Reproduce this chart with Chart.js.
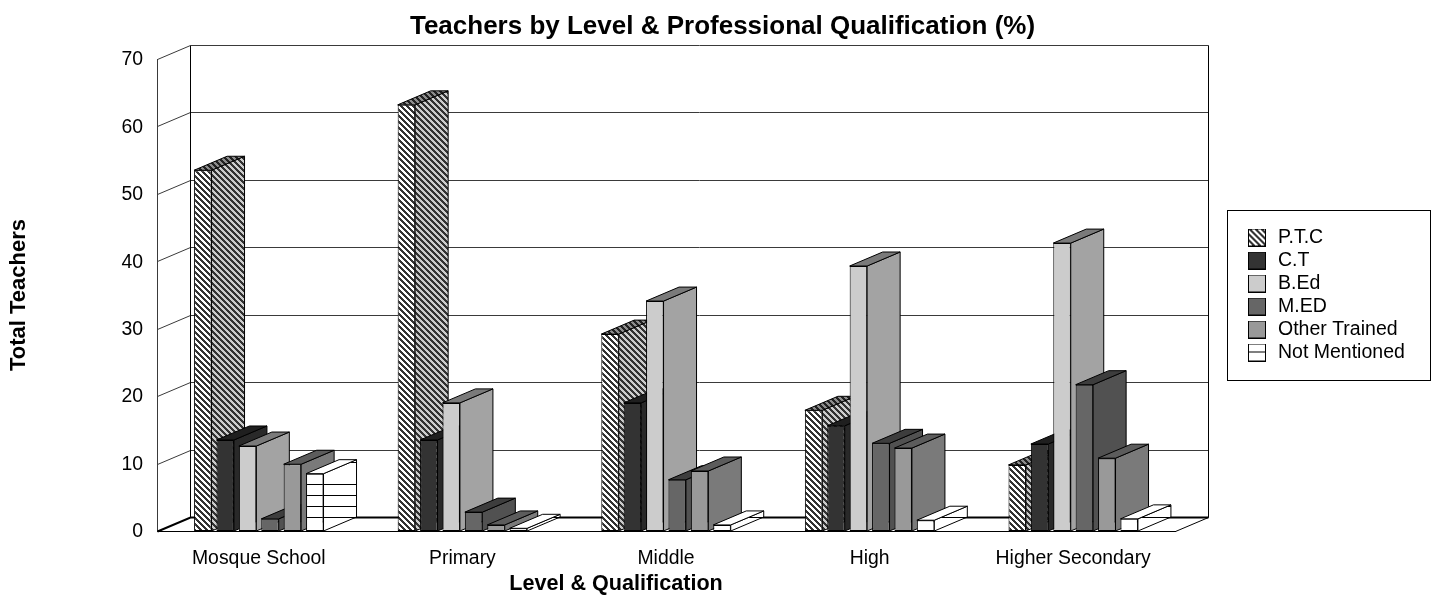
<!DOCTYPE html>
<html><head><meta charset="utf-8">
<style>html,body{margin:0;padding:0;background:#fff;overflow:hidden}canvas{display:block}</style>
<script src="https://cdn.jsdelivr.net/npm/chart.js@4/dist/chart.umd.min.js"></script>
</head><body>
<canvas id="c" width="1445" height="596"></canvas>
<script>
const categories = ['Mosque School','Primary','Middle','High','Higher Secondary'];
const seriesNames = ['P.T.C','C.T','B.Ed','M.ED','Other Trained','Not Mentioned'];
const ptc = [53.5,63.2,29.2,17.9,9.8];
const ct = [13.5,13.5,19,15.6,12.9];
const bed = [12.6,19,34.1,39.3,42.7];
const med = [1.8,2.8,7.6,13,21.7];
const otherTrained = [9.9,0.9,8.9,12.3,10.8];
const notMentioned = [8.5,0.4,0.9,1.6,1.8];
const seriesValues = [ptc,ct,bed,med,otherTrained,notMentioned];
const yTickStep = 10, yMax = 70;

const FONT = '"Liberation Sans", Arial, sans-serif';
const DX = 33, DY = -14;
const ctx = document.getElementById('c').getContext('2d');

function tile(w,h,paint){const t=document.createElement('canvas');t.width=w;t.height=h;paint(t.getContext('2d'));return t;}
function stripeTile(light,dark){
  return tile(6,6,g=>{
    for(let x=0;x<6;x++)for(let y=0;y<6;y++){
      g.fillStyle=((x-y+12)%6)<3?dark:light;g.fillRect(x,y,1,1);
    }});
}
function stripes(light,dark){return ctx.createPattern(stripeTile(light,dark),'repeat');}
function rules(){
  return ctx.createPattern(tile(1,55,g=>{
    g.fillStyle='#fff';g.fillRect(0,0,1,55);
    g.fillStyle='#000';[0,11,22,44].forEach(r=>g.fillRect(0,r,1,1));
  }),'repeat');
}
const styles = [
  {front:stripes('#ffffff','#333333'),side:stripes('#cccccc','#333333'),top:stripes('#8c8c8c','#222222')},
  {front:'#333333',side:'#292929',top:'#1f1f1f'},
  {front:'#cccccc',side:'#a3a3a3',top:'#7a7a7a'},
  {front:'#666666',side:'#515151',top:'#3d3d3d'},
  {front:'#999999',side:'#7a7a7a',top:'#5c5c5c'},
  {front:rules(),side:rules(),top:'#ffffff'}
];
const swatches = styles.map((s,i)=>tile(18,18,g=>{
  if(i===5){g.fillStyle='#fff';g.fillRect(0,0,18,18);g.fillStyle='#000';g.fillRect(0,8,18,1);}
  else{g.fillStyle=i===0?g.createPattern(stripeTile('#ffffff','#333333'),'repeat'):s.front;g.fillRect(0,0,18,18);}
  g.strokeStyle='#000';g.lineWidth=1;g.strokeRect(.5,.5,17,17);
}));

function poly(c,pts,fill){
  c.beginPath();pts.forEach((p,i)=>i?c.lineTo(p[0],p[1]):c.moveTo(p[0],p[1]));c.closePath();
  if(fill){c.fillStyle=fill;c.fill();}
  c.lineWidth=1;c.strokeStyle='#000';c.stroke();
}
function line(c,pts,color,w){
  c.beginPath();pts.forEach((p,i)=>i?c.lineTo(p[0],p[1]):c.moveTo(p[0],p[1]));
  c.strokeStyle=color;c.lineWidth=w;c.stroke();
}
function nudge(scale,method,dx,dy){
  const d=scale[method];
  scale[method]=function(){const c=this.ctx;c.save();c.translate(dx,dy);d.apply(this,arguments);c.restore();};
}

const depthPlugin = {
  id:'depth',
  beforeLayout(chart){
    const lg=chart.legend;
    if(lg&&!lg._wrapped){const f=lg.fit;lg.fit=function(){f.call(this);this.width=270;};lg._wrapped=true;}
    const sx=chart.scales.x,sy=chart.scales.y;
    if(sx&&!sx._wrapped){
      nudge(sx,'drawTitle',-50,1);
      nudge(sy,'drawLabels',0,1);
      sx._wrapped=true;
    }
  },
  afterLayout(chart){
    const lg=chart.legend;
    lg.left=1242.25;lg.right=1430;lg.top=224.25;lg.bottom=400;
  },
  beforeDatasetsDraw(chart){
    const c=chart.ctx,a=chart.chartArea,y=chart.scales.y;
    const L=Math.round(a.left)+.5,R=Math.round(a.right)+.5,B=Math.round(y.getPixelForValue(0))+.5;
    c.save();
    for(let v=yTickStep;v<=yMax;v+=yTickStep){
      const p=Math.round(y.getPixelForValue(v))+.5;
      line(c,[[L,p],[L+DX,p+DY],[R+DX,p+DY]],'#3a3a3a',1);
    }
    const T=Math.round(y.getPixelForValue(yMax))+.5;
    line(c,[[L+DX,T+DY],[L+DX,B+DY]],'#000',1);
    line(c,[[R+DX,T+DY],[R+DX,B+DY]],'#000',1);
    line(c,[[L,B],[L+DX,B+DY],[R+DX,B+DY]],'#000',2);
    line(c,[[R+DX,B+DY],[R,B],[L,B]],'#000',1);
    chart.data.labels.forEach((_,ci)=>{
      chart.data.datasets.forEach((d,di)=>{
        const el=chart.getDatasetMeta(di).data[ci];
        const {x,y:t,width,base}=el.getProps(['x','y','width','base'],true);
        const l=x-width/2,r=x+width/2;
        poly(c,[[r,t],[r+DX,t+DY],[r+DX,base+DY],[r,base]],styles[di].side);
        poly(c,[[l,t],[l+DX,t+DY],[r+DX,t+DY],[r,t]],styles[di].top);
      });
    });
    c.restore();
  },
  afterDraw(chart){
    const c=chart.ctx;
    c.save();c.strokeStyle='#000';c.lineWidth=1;c.strokeRect(1227.5,210.5,203,170);c.restore();
  }
};

new Chart(ctx,{
  type:'bar',
  data:{labels:categories,datasets:seriesNames.map((n,i)=>({
    label:n,data:seriesValues[i],backgroundColor:styles[i].front,
    borderColor:'#000',borderWidth:1,borderSkipped:false,
    categoryPercentage:0.66,barPercentage:0.78
  }))},
  options:{
    responsive:false,animation:false,events:[],
    layout:{padding:0,autoPadding:false},
    plugins:{
      title:{display:true,text:'Teachers by Level & Professional Qualification (%)',color:'#000',
        font:{family:FONT,size:26,weight:'bold'},padding:{top:11,bottom:16.8}},
      legend:{position:'right',align:'start',
        labels:{usePointStyle:true,pointStyleWidth:22.5,color:'#000',padding:3.5,
          font:{family:FONT,size:19.5},
          generateLabels:()=>seriesNames.map((n,i)=>({text:n,pointStyle:swatches[i],fillStyle:'#fff',strokeStyle:'#000',lineWidth:0,datasetIndex:i,fontColor:'#000',hidden:false}))}
      },
      tooltip:{enabled:false}
    },
    scales:{
      x:{grid:{display:false,drawTicks:false},border:{display:true,color:'#000'},
        ticks:{color:'#000',font:{family:FONT,size:19.4},padding:16,maxRotation:0,autoSkip:false},
        title:{display:true,text:'Level & Qualification',color:'#000',font:{family:FONT,size:21.6,weight:'bold'},padding:{top:0,bottom:0}},
        afterFit:s=>{s.height=65;}},
      y:{min:0,max:yMax,grid:{display:false,drawTicks:false},border:{display:true,color:'#3a3a3a'},
        ticks:{stepSize:yTickStep,color:'#000',font:{family:FONT,size:19.4},padding:14},
        title:{display:true,text:'Total Teachers',color:'#000',font:{family:FONT,size:22,weight:'bold'},padding:{top:5.5,bottom:0}},
        afterFit:s=>{s.width=157;}}
    }
  },
  plugins:[depthPlugin]
});
</script>
</body></html>
